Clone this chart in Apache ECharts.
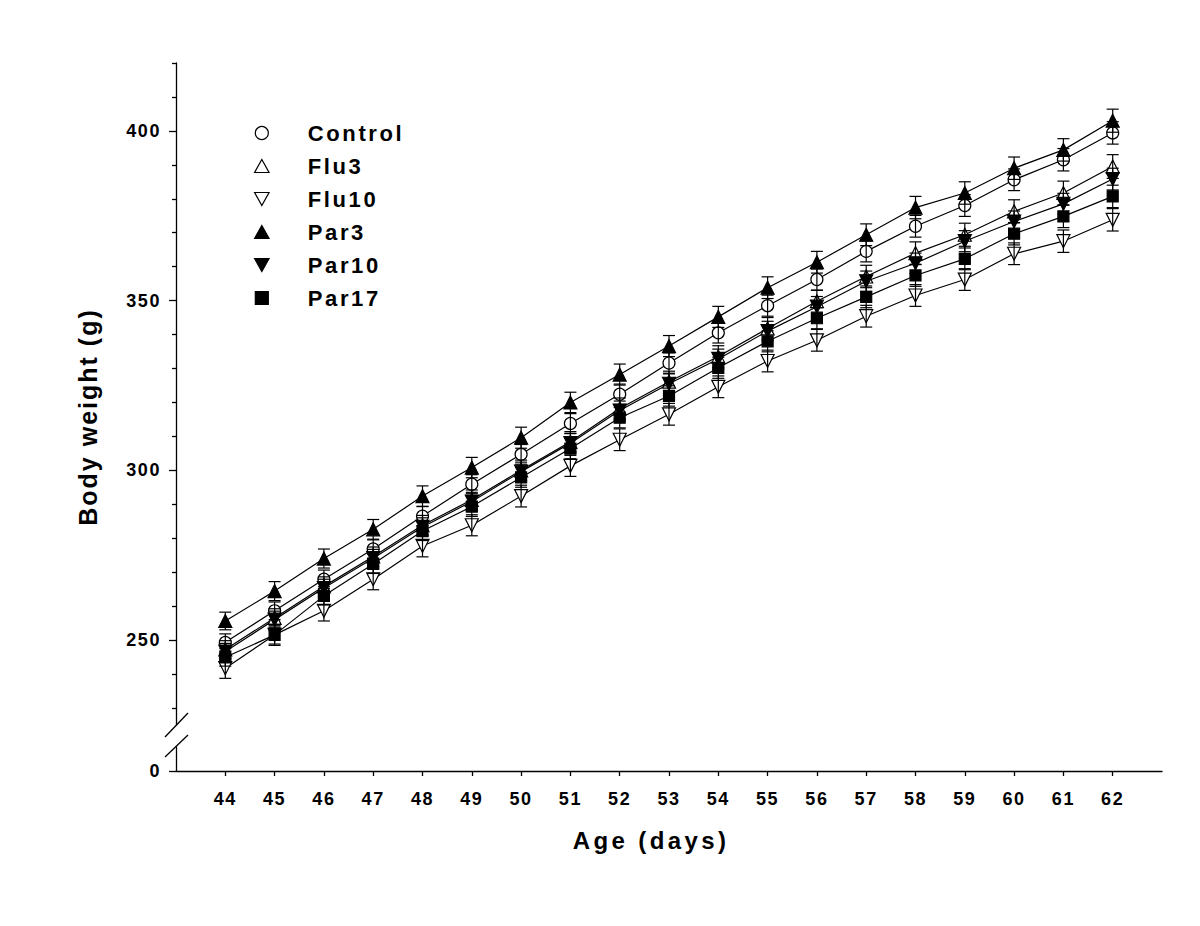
<!DOCTYPE html>
<html>
<head>
<meta charset="utf-8">
<script src="https://cdn.jsdelivr.net/npm/echarts@6/dist/echarts.min.js"></script>
<style>
html,body{margin:0;padding:0;background:#fff}
#chart{width:1200px;height:926px}
#chart text[style*="18px"]{letter-spacing:1.6px}
#chart text[style*="22px"]{letter-spacing:2.6px}
#chart text[style*="24px"]{letter-spacing:3.4px}
#chart text[style*="25px"]{letter-spacing:2px}
</style>
</head>
<body>
<div id="chart"></div>
<script>
// ---- data ----
const DAYS = [44,45,46,47,48,49,50,51,52,53,54,55,56,57,58,59,60,61,62];

const CONTROL = [249.3,258.6,267.9,276.8,286.5,295.9,304.7,313.8,322.4,331.6,340.5,348.5,356.2,364.5,371.9,378.0,385.6,391.5,399.4];
const FLU3    = [247.2,256.5,265.8,274.6,283.8,291.3,300.0,308.4,318.2,326.1,333.5,341.8,349.8,357.1,364.0,369.4,376.3,381.7,389.5];
const FLU10   = [241.7,251.5,258.6,267.9,277.7,283.8,292.4,301.3,309.0,316.5,324.6,332.2,338.3,345.4,351.5,356.2,363.8,367.5,373.8];
const PAR3    = [255.6,264.4,274.0,282.6,292.4,300.8,309.6,320.0,328.2,336.6,345.2,353.8,361.3,369.4,377.4,381.7,389.0,394.4,403.0];
const PAR10   = [246.6,256.0,265.3,274.1,283.3,290.8,299.6,308.0,317.6,325.5,332.8,341.0,348.2,355.7,361.0,367.5,373.3,378.5,385.8];
const PAR17   = [244.9,251.5,263.0,272.4,282.1,289.3,297.9,306.4,315.5,321.9,330.2,338.0,344.8,351.1,357.4,362.3,369.7,374.8,380.7];

const CONTROL_SEM = [2.5,2.6,2.7,2.7,2.8,2.8,2.9,2.9,3.0,3.0,3.0,3.1,3.1,3.1,3.2,3.2,3.2,3.3,3.3];
const FLU3_SEM    = [2.6,2.7,2.8,2.8,2.9,2.9,3.0,3.0,3.1,3.1,3.2,3.2,3.2,3.3,3.3,3.4,3.4,3.5,3.5];
const FLU10_SEM   = [3.0,3.1,3.0,3.1,3.2,3.1,3.2,3.1,3.2,3.2,3.2,3.2,3.2,3.2,3.2,3.2,3.2,3.3,3.3];
const PAR3_SEM    = [2.6,2.8,2.8,2.9,3.0,3.0,3.1,3.0,3.1,3.1,3.1,3.2,3.2,3.2,3.3,3.3,3.3,3.3,3.4];
const PAR10_SEM   = [2.4,2.5,2.6,2.6,2.7,2.7,2.8,2.8,2.8,2.9,2.9,2.9,3.0,3.0,3.0,3.1,3.1,3.1,3.2];
const PAR17_SEM   = [2.6,2.7,2.7,2.8,2.8,2.9,2.9,3.0,3.0,3.0,3.1,3.1,3.1,3.2,3.2,3.2,3.3,3.3,3.3];

const SERIES_NAMES = ['Control','Flu3','Flu10','Par3','Par10','Par17'];

// axis set-up (broken axis: bottom of the axis is labelled 0)
const X_MIN = 43, X_MAX = 63;
const Y_MIN = 211.4, Y_MAX = 420;
const Y_MAJOR_TICKS = [Y_MIN, 250, 300, 350, 400];
const Y_MINOR_TICKS = [230,240,260,270,280,290,310,320,330,340,360,370,380,390,410,420];
const BREAK_VALUE = 221.7;

const FONT = '"Liberation Sans", Arial, sans-serif';
const DOWN_TRI = 'path://M0,0L20,0L10,18Z';
const UP_TRI = 'path://M10,0L20,18L0,18Z';
const SQUARE = 'path://M0,0L10,0L10,10L0,10Z';

const STYLE = {
  'Control': {symbol:'circle',   size:12, rot:0,   fill:'#fff', icon:'circle'},
  'Flu3':    {symbol:'triangle', size:13, rot:0,   fill:'#fff', icon:UP_TRI},
  'Flu10':   {symbol:'triangle', size:13, rot:180, fill:'#fff', icon:DOWN_TRI},
  'Par3':    {symbol:'triangle', size:13, rot:0,   fill:'#000', icon:UP_TRI},
  'Par10':   {symbol:'triangle', size:13, rot:180, fill:'#000', icon:DOWN_TRI},
  'Par17':   {symbol:'rect',     size:11, rot:0,   fill:'#000', icon:SQUARE}
};
const VALUES = {Control:CONTROL, Flu3:FLU3, Flu10:FLU10, Par3:PAR3, Par10:PAR10, Par17:PAR17};
const SEMS = {Control:CONTROL_SEM, Flu3:FLU3_SEM, Flu10:FLU10_SEM, Par3:PAR3_SEM, Par10:PAR10_SEM, Par17:PAR17_SEM};

const chart = echarts.init(document.getElementById('chart'), null, {renderer:'svg'});

const series = [];
SERIES_NAMES.forEach(name => {
  const st = STYLE[name];
  series.push({
    type:'line', name,
    data: DAYS.map((d,i)=>[d, VALUES[name][i]]),
    symbol: st.symbol, symbolSize: st.size, symbolRotate: st.rot,
    showAllSymbol: true,
    lineStyle:{color:'#000', width:1.2},
    itemStyle:{color:st.fill, borderColor:'#000', borderWidth:1.2},
    emphasis:{disabled:true},
    z:2
  });
});
SERIES_NAMES.forEach(name => {
  series.push({
    type:'custom',
    data: DAYS.map((d,i)=>[d, VALUES[name][i], SEMS[name][i]]),
    encode:{x:0, y:1},
    z:3,
    silent:true,
    renderItem(params, api){
      const x = api.value(0), m = api.value(1), e = api.value(2);
      const t = api.coord([x, m+e]), b = api.coord([x, m-e]);
      const hw = 6;
      const s = {stroke:'#000', lineWidth:1.2};
      return {type:'group', children:[
        {type:'line', shape:{x1:t[0],y1:t[1],x2:b[0],y2:b[1]}, style:s},
        {type:'line', shape:{x1:t[0]-hw,y1:t[1],x2:t[0]+hw,y2:t[1]}, style:s},
        {type:'line', shape:{x1:b[0]-hw,y1:b[1],x2:b[0]+hw,y2:b[1]}, style:s}
      ]};
    }
  });
});

const axisLineStyle = {color:'#000', width:1.3};
const labelStyle = {fontSize:18, fontWeight:'bold', color:'#000', fontFamily:FONT};

chart.setOption({
  animation:false,
  backgroundColor:'#fff',
  grid:{left:176, top:63, width:986, height:708, containLabel:false, outerBoundsMode:'none'},
  legend:{
    orient:'vertical', left:249, top:117,
    itemWidth:82, itemHeight:13, itemGap:11,
    selectedMode:false,
    textStyle:{fontSize:22, fontWeight:'bold', color:'#000', fontFamily:FONT, lineHeight:22},
    data: SERIES_NAMES.map(name => ({
      name, icon: STYLE[name].icon,
      itemStyle:{color:STYLE[name].fill, borderColor:'#000', borderWidth:1.2}
    }))
  },
  xAxis:{
    type:'value', min:X_MIN, max:X_MAX, interval:1,
    axisLine:{show:true, lineStyle:axisLineStyle},
    axisTick:{show:true, customValues:DAYS, length:5, inside:false, lineStyle:axisLineStyle},
    axisLabel:Object.assign({customValues:DAYS, margin:19}, labelStyle),
    splitLine:{show:false},
    name:'Age (days)', nameLocation:'middle', nameGap:57,
    nameTextStyle:{fontSize:24, fontWeight:'bold', color:'#000', fontFamily:FONT, padding:[0,36,0,0]}
  },
  yAxis:[{
    type:'value', min:Y_MIN, max:Y_MAX, position:'left',
    axisLine:{show:true, lineStyle:axisLineStyle},
    axisTick:{show:true, customValues:Y_MAJOR_TICKS, length:7, inside:false, lineStyle:axisLineStyle},
    axisLabel:Object.assign({
      customValues:Y_MAJOR_TICKS, margin:15,
      formatter: v => (Math.abs(v - Y_MIN) < 1e-6 ? '0' : String(v))
    }, labelStyle),
    splitLine:{show:false},
    name:'Body weight (g)', nameLocation:'middle', nameGap:76,
    nameTextStyle:{fontSize:25, fontWeight:'bold', color:'#000', fontFamily:FONT}
  },{
    type:'value', min:Y_MIN, max:Y_MAX, position:'left',
    axisLine:{show:false},
    axisTick:{show:true, customValues:Y_MINOR_TICKS, length:4, inside:false, lineStyle:axisLineStyle},
    axisLabel:{show:false},
    splitLine:{show:false}
  }],
  series
});

// axis break marks, placed from the axis scale
const ax = chart.convertToPixel({xAxisIndex:0}, X_MIN);
const yc = chart.convertToPixel({yAxisIndex:0}, BREAK_VALUE);
const brk = {stroke:'#000', lineWidth:1.3};
chart.setOption({
  graphic:[
    {type:'rect', z:100, shape:{x:ax-3, y:yc-10.5, width:6, height:21}, style:{fill:'#fff'}},
    {type:'line', z:101, shape:{x1:ax-11, y1:yc+1, x2:ax+12, y2:yc-23}, style:brk},
    {type:'line', z:101, shape:{x1:ax-11, y1:yc+21, x2:ax+12, y2:yc-1}, style:brk}
  ]
});
</script>
</body>
</html>
